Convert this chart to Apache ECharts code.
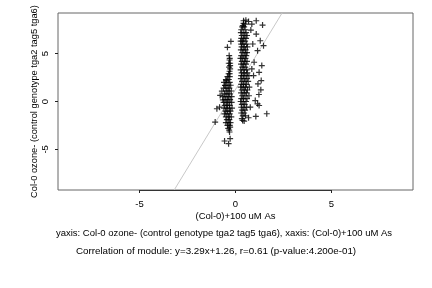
<!DOCTYPE html>
<html>
<head>
<meta charset="utf-8">
<script src="https://cdn.jsdelivr.net/npm/echarts@6/dist/echarts.min.js"></script>
<style>
  html, body { margin: 0; padding: 0; background: #fff; }
  #main { width: 432px; height: 288px; }
</style>
</head>
<body>
<div id="main"></div>
<script>
// axis range and ticks
const xRange = [-9.25, 9.25]
const yRange = [-9.25, 9.25]
const xTicks = [-5, 0, 5]
const yTicks = [-5, 0, 5]

// fitted line y = slope * x + intercept
const fitSlope = 3.29
const fitIntercept = 1.26

// cluster around x = +0.4
const rightPoints = [
  [0.42, 8.44], [0.54, 8.5], [0.68, 8.36], [0.85, 8.09], [1.08, 8.44], [1.41, 7.99],
  [0.42, 8.16], [0.52, 8.09], [0.38, 7.92],
  [0.35, 7.8], [0.45, 7.8], [0.3, 7.5], [0.5, 7.5], [0.4, 7.2], [0.55, 7.2], [0.28, 7.2],
  [0.33, 6.9], [0.48, 6.9], [0.6, 6.9], [0.3, 6.6], [0.42, 6.6], [0.55, 6.6],
  [0.36, 6.3], [0.5, 6.3], [0.27, 6.3], [0.4, 6.0], [0.58, 6.0], [0.3, 6.0],
  [0.32, 5.7], [0.46, 5.7], [0.62, 5.7], [0.28, 5.4], [0.4, 5.4], [0.53, 5.4],
  [0.35, 5.1], [0.5, 5.1], [0.6, 5.1], [0.3, 4.8], [0.44, 4.8], [0.56, 4.8],
  [0.26, 4.5], [0.38, 4.5], [0.52, 4.5], [0.33, 4.2], [0.47, 4.2], [0.6, 4.2],
  [0.29, 3.9], [0.41, 3.9], [0.55, 3.9], [0.35, 3.6], [0.5, 3.6],
  [0.27, 3.3], [0.43, 3.3], [0.58, 3.3], [0.32, 3.0], [0.46, 3.0], [0.62, 3.0],
  [0.3, 2.7], [0.4, 2.7], [0.55, 2.7], [0.7, 2.7], [0.28, 2.4], [0.45, 2.4], [0.6, 2.4],
  [0.34, 2.1], [0.5, 2.1], [0.66, 2.1], [0.3, 1.8], [0.42, 1.8], [0.57, 1.8],
  [0.27, 1.5], [0.4, 1.5], [0.52, 1.5], [0.72, 1.5], [0.33, 1.2], [0.48, 1.2], [0.62, 1.2],
  [0.29, 0.9], [0.44, 0.9], [0.58, 0.9], [0.35, 0.6], [0.5, 0.6], [0.7, 0.6],
  [0.3, 0.3], [0.42, 0.3], [0.6, 0.3], [0.27, 0.0], [0.4, 0.0], [0.55, 0.0],
  [0.33, -0.3], [0.48, -0.3], [0.3, -0.6], [0.43, -0.6], [0.58, -0.6],
  [0.35, -0.9], [0.5, -0.9], [0.3, -1.2], [0.45, -1.2], [0.38, -1.5], [0.52, -1.5], [0.33, -1.8],
  [0.8, 7.47], [1.08, 7.05], [1.29, 6.35], [0.9, 6.01], [1.46, 5.83], [1.15, 5.31],
  [0.97, 4.1], [1.37, 3.75], [0.85, 3.4], [1.23, 3.05], [0.94, 2.71], [1.34, 2.19],
  [1.17, 1.84], [1.32, 1.22], [1.22, 0.73], [1.03, 0.1], [1.15, -0.24], [1.23, -0.42],
  [0.77, -0.59], [1.63, -1.28], [1.06, -1.56], [0.68, -1.7], [0.45, -2.05], [0.37, -1.98]
]

// cluster around x = -0.4
const leftPoints = [
  [-0.24, 6.28], [-0.42, 5.66], [-0.31, 4.34], [-0.28, 3.75], [-0.28, 3.4], [-0.31, 3.16],
  [-0.33, 4.8], [-0.3, 4.5], [-0.35, 4.0], [-0.28, 4.0], [-0.33, 3.6],
  [-0.36, 2.9], [-0.3, 2.9], [-0.42, 2.6], [-0.3, 2.6], [-0.5, 2.3], [-0.35, 2.3],
  [-0.48, 2.19], [-0.54, 1.67], [-0.71, 1.08], [-0.8, 0.63], [-0.66, 0.17],
  [-0.97, -0.76], [-0.83, -0.59], [-1.06, -2.15],
  [-0.57, -4.13], [-0.36, -4.41], [-0.28, -3.89], [-0.31, -3.19], [-0.28, -2.67],
  [-0.6, 2.0], [-0.45, 2.0], [-0.3, 2.0], [-0.55, 1.7], [-0.38, 1.7], [-0.25, 1.7],
  [-0.62, 1.4], [-0.45, 1.4], [-0.32, 1.4], [-0.5, 1.1], [-0.38, 1.1], [-0.22, 1.1],
  [-0.58, 0.8], [-0.44, 0.8], [-0.3, 0.8], [-0.65, 0.5], [-0.5, 0.5], [-0.36, 0.5], [-0.2, 0.5],
  [-0.55, 0.2], [-0.42, 0.2], [-0.28, 0.2], [-0.62, -0.1], [-0.48, -0.1], [-0.34, -0.1], [-0.2, -0.1],
  [-0.56, -0.4], [-0.42, -0.4], [-0.3, -0.4], [-0.6, -0.7], [-0.46, -0.7], [-0.32, -0.7], [-0.18, -0.7],
  [-0.52, -1.0], [-0.4, -1.0], [-0.26, -1.0], [-0.58, -1.3], [-0.44, -1.3], [-0.3, -1.3],
  [-0.5, -1.6], [-0.36, -1.6], [-0.22, -1.6], [-0.45, -1.9], [-0.32, -1.9],
  [-0.5, -2.2], [-0.38, -2.2], [-0.26, -2.2], [-0.42, -2.5], [-0.3, -2.5], [-0.38, -2.8], [-0.33, -3.0]
]

const fitLine = [
  [(yRange[0] - fitIntercept) / fitSlope, yRange[0]],
  [(yRange[1] - fitIntercept) / fitSlope, yRange[1]]
]

const plusPath = 'path://M4,0H6V4H10V6H6V10H4V6H0V4H4Z'
const font = 'Liberation Sans, Arial, sans-serif'

let chart = echarts.init(document.getElementById('main'))
let option = {
  animation: false,
  grid: {
    left: 58, top: 13, right: 19, bottom: 98,
    show: true, borderColor: '#666', borderWidth: 1
  },
  xAxis: {
    type: 'value',
    min: xRange[0], max: xRange[1],
    name: '(Col-0)+100 uM As',
    nameLocation: 'center',
    nameGap: 21,
    nameMoveOverlap: false,
    nameTextStyle: { color: '#000', fontSize: 9.5, fontFamily: font },
    axisLine: { show: false, onZero: false },
    axisTick: { show: true, length: 3, customValues: xTicks, lineStyle: { color: '#222' } },
    axisLabel: { customValues: xTicks, color: '#000', fontSize: 9.5, fontFamily: font, margin: 9 },
    splitLine: { show: false }
  },
  yAxis: {
    type: 'value',
    min: yRange[0], max: yRange[1],
    name: 'Col-0 ozone- (control genotype tga2 tag5 tga6)',
    nameLocation: 'center',
    nameGap: 19,
    nameMoveOverlap: false,
    nameTextStyle: { color: '#000', fontSize: 9.3, fontFamily: font },
    axisLine: { show: false, onZero: false },
    axisTick: { show: true, length: 3, customValues: yTicks, lineStyle: { color: '#222' } },
    axisLabel: { customValues: yTicks, rotate: 90, color: '#000', fontSize: 9.5, fontFamily: font, margin: 8 },
    splitLine: { show: false }
  },
  series: [
    {
      type: 'line',
      data: fitLine,
      symbol: 'none',
      lineStyle: { color: '#c8c8c8', width: 1 },
      silent: true,
      z: 1,
      markLine: {
        silent: true,
        symbol: 'none',
        label: { show: false },
        lineStyle: { color: '#333', width: 1, type: 'solid' },
        data: [[{ coord: [xTicks[0], yRange[0]] }, { coord: [xTicks[2], yRange[0]] }]]
      }
    },
    {
      type: 'scatter',
      data: leftPoints.concat(rightPoints),
      symbol: plusPath,
      symbolSize: 6,
      itemStyle: { color: '#000' },
      z: 2
    }
  ],
  graphic: [
    {
      type: 'text', x: 224, y: 233,
      style: {
        text: 'yaxis: Col-0 ozone- (control genotype tga2 tag5 tga6), xaxis: (Col-0)+100 uM As',
        fill: '#000', font: '9.5px ' + font, align: 'center', verticalAlign: 'middle'
      }
    },
    {
      type: 'text', x: 216, y: 251,
      style: {
        text: 'Correlation of module: y=3.29x+1.26, r=0.61 (p-value:4.200e-01)',
        fill: '#000', font: '9.8px ' + font, align: 'center', verticalAlign: 'middle'
      }
    }
  ]
}
chart.setOption(option)
</script>
</body>
</html>
